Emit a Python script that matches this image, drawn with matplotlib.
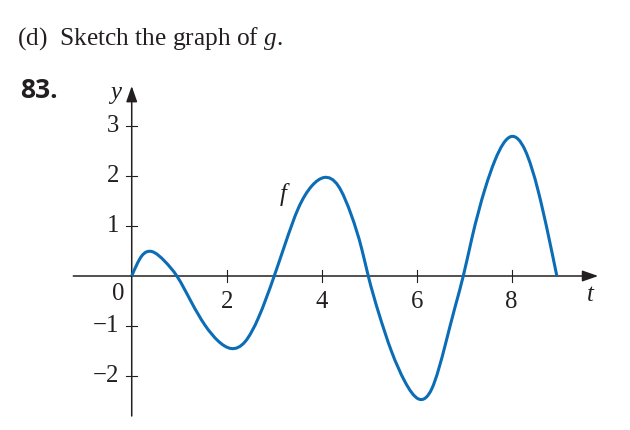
import matplotlib
matplotlib.use("Agg")
import matplotlib.pyplot as plt
import numpy as np
from matplotlib.path import Path
from matplotlib.patches import PathPatch

plt.rcParams["mathtext.fontset"] = "custom"
plt.rcParams["mathtext.rm"] = "Liberation Serif"
plt.rcParams["mathtext.it"] = "Liberation Serif:italic"

t_vals = [0, 0.21, 0.42, 0.70, 0.95, 1.26, 1.54, 1.82, 2.09, 2.39, 2.67, 3.00,
          3.23, 3.51, 3.79, 4.05, 4.35, 4.63, 4.84, 4.98, 5.19, 5.47, 5.75,
          6.04, 6.32, 6.60, 6.81, 6.98, 7.16, 7.44, 7.65, 7.99, 8.28, 8.56,
          8.77, 8.95]
f_vals = [0, 0.40, 0.49, 0.29, 0, -0.53, -0.98, -1.30, -1.45, -1.31, -0.83, 0,
          0.64, 1.36, 1.80, 1.97, 1.80, 1.20, 0.55, 0, -0.71, -1.51, -2.11,
          -2.46, -2.25, -1.38, -0.61, 0, 0.75, 1.75, 2.32, 2.79, 2.52, 1.69,
          0.82, 0]

x_ticks = [2, 4, 6, 8]
y_ticks = [-2, -1, 1, 2, 3]

INK = "#231f20"
BLUE = "#0b6db5"
SERIF = "Liberation Serif"
FS = 17.8

fig = plt.figure(figsize=(6.3, 4.3), dpi=100)
ax = fig.add_axes([0, 0, 1, 1])
ax.set_xlim(-2.773, 10.490)
ax.set_ylim(-3.08, 5.52)
ax.axis("off")

# axes with arrow heads
arrow = dict(arrowstyle="-|>,head_length=0.8,head_width=0.28", lw=1.1,
             color=INK, mutation_scale=12, shrinkA=0, shrinkB=0)
ax.annotate("", xy=(9.82, 0), xytext=(-1.23, 0), arrowprops=arrow)
ax.annotate("", xy=(0, 3.8), xytext=(0, -2.8), arrowprops=arrow)

# cross ticks
for xt in x_ticks:
    ax.plot([xt, xt], [-0.12, 0.12], color=INK, lw=0.8)
    ax.text(xt, -0.53, str(xt), ha="center", va="center",
            family=SERIF, fontsize=FS, color=INK)
for yt in y_ticks:
    ax.plot([-0.12, 0.12], [yt, yt], color=INK, lw=0.8)
    lab = str(yt).replace("-", "\u2212")
    ax.text(-0.26, yt, lab, ha="right", va="center",
            family=SERIF, fontsize=FS, color=INK)
ax.text(-0.28, -0.37, "0", ha="center", va="center",
        family=SERIF, fontsize=FS, color=INK)
ax.text(9.65, -0.38, "t", ha="center", va="center", family=SERIF,
        style="italic", fontsize=FS, color=INK)
ax.text(-0.35, 3.65, "y", ha="center", va="center", family=SERIF,
        style="italic", fontsize=FS, color=INK)
ax.text(3.18, 1.62, "f", ha="center", va="center", family=SERIF,
        style="italic", fontsize=FS, color=INK)

# natural cubic spline through the read points, drawn as Bezier segments
t = np.array(t_vals)
y = np.array(f_vals)
n = len(t)
h = np.diff(t)
d = np.diff(y) / h
A = np.zeros((n, n))
rhs = np.zeros(n)
A[0, 0] = A[-1, -1] = 1
for i in range(1, n - 1):
    A[i, i - 1] = h[i - 1]
    A[i, i] = 2 * (h[i - 1] + h[i])
    A[i, i + 1] = h[i]
    rhs[i] = 6 * (d[i] - d[i - 1])
M = np.linalg.solve(A, rhs)

verts = [(t[0], y[0])]
codes = [Path.MOVETO]
for i in range(n - 1):
    s0 = d[i] - h[i] * (2 * M[i] + M[i + 1]) / 6
    s1 = d[i] + h[i] * (M[i] + 2 * M[i + 1]) / 6
    verts += [(t[i] + h[i] / 3, y[i] + s0 * h[i] / 3),
              (t[i + 1] - h[i] / 3, y[i + 1] - s1 * h[i] / 3),
              (t[i + 1], y[i + 1])]
    codes += [Path.CURVE4] * 3
ax.add_patch(PathPatch(Path(verts, codes), facecolor="none", edgecolor=BLUE,
                       lw=2.2, capstyle="butt", zorder=3))

fig.text(0.0265, 1 - 45 / 430, "(d)  Sketch the graph of $g$.", ha="left",
         va="baseline", family=SERIF, fontsize=18.3, color=INK)
fig.text(0.032, 1 - 98 / 430, "83.", ha="left", va="baseline",
         family="Open Sans", fontweight="bold", fontsize=19, color=INK)

fig.savefig("out.png", dpi=100)
